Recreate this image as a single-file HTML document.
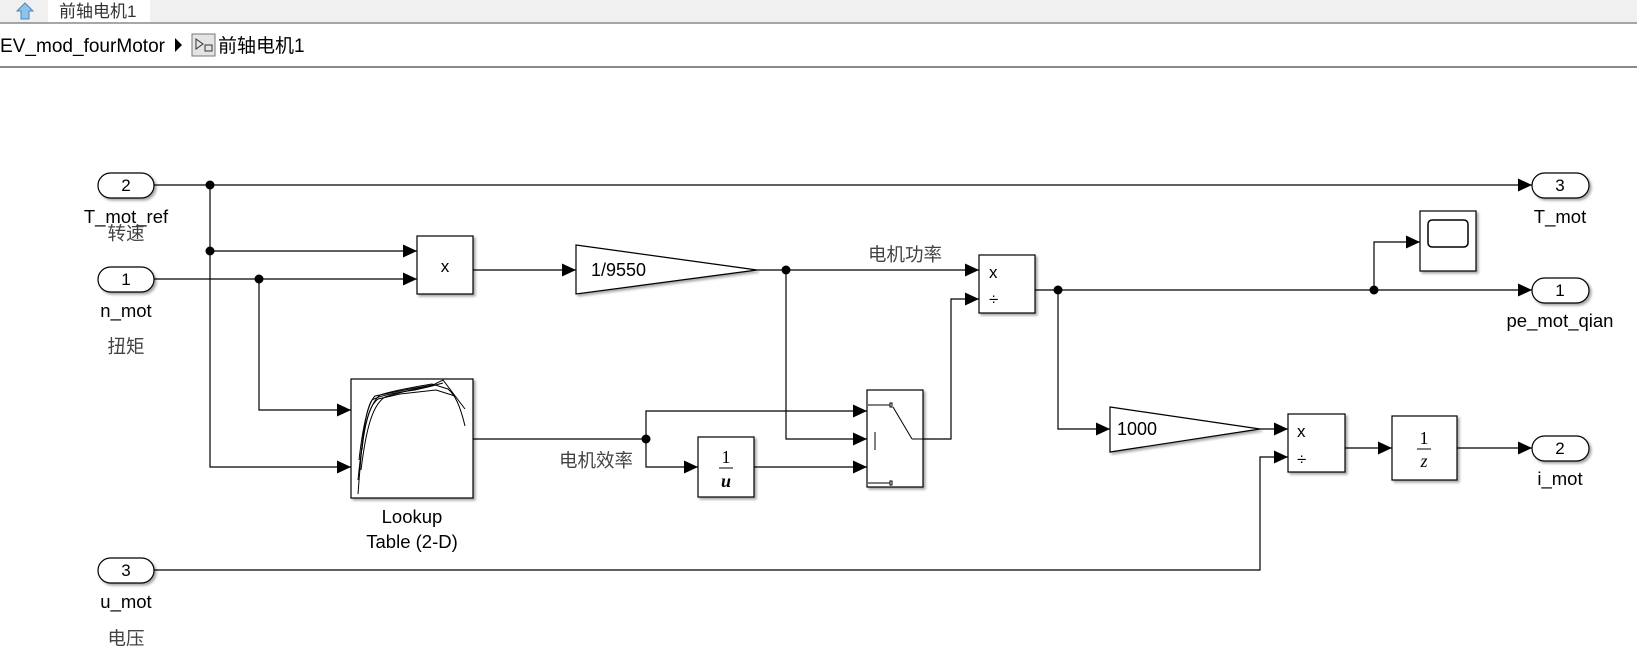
<!DOCTYPE html>
<html><head><meta charset="utf-8"><style>
body{margin:0;width:1637px;height:658px;background:#fff;overflow:hidden;font-family:"Liberation Sans","Noto Sans CJK SC",sans-serif}
</style></head><body>
<svg width="1637" height="658" xmlns="http://www.w3.org/2000/svg" font-family="Liberation Sans, Noto Sans CJK SC, sans-serif">
<defs>
<marker id="a" markerWidth="14" markerHeight="13" refX="14" refY="6.5" orient="auto" markerUnits="userSpaceOnUse"><path d="M0,0 L14,6.5 L0,13 Z" fill="#000"/></marker>
<filter id="s" x="-10%" y="-10%" width="130%" height="130%"><feDropShadow dx="2" dy="2" stdDeviation="1.2" flood-color="#000" flood-opacity="0.35"/></filter>
</defs>
<!-- header -->
<rect x="0" y="0" width="1637" height="23" fill="#f0f0f0"/>
<rect x="48" y="0" width="102" height="23" fill="#fff"/>
<line x1="0" y1="23" x2="1637" y2="23" stroke="#8a8a8a" stroke-width="1.5"/>
<path d="M25,3 L33,11 L29,11 L29,19 L21,19 L21,11 L17,11 Z" fill="#8fc3ea" stroke="#4a86c0"/>
<text x="59" y="17" font-size="17" fill="#333">前轴电机1</text>
<rect x="0" y="24" width="1637" height="40" fill="#fff"/>
<line x1="0" y1="67" x2="1637" y2="67" stroke="#8a8a8a" stroke-width="2"/>
<text x="0" y="52" font-size="19" fill="#000" textLength="165" lengthAdjust="spacingAndGlyphs">EV_mod_fourMotor</text>
<path d="M175,38 L182,45 L175,52 Z" fill="#000"/>
<rect x="192" y="34" width="23" height="22" fill="#e4e4e4" stroke="#777"/>
<path d="M196,39 L203,44 L196,49 Z" fill="none" stroke="#333"/><rect x="205" y="45" width="7" height="6" fill="none" stroke="#333"/>
<text x="218" y="52" font-size="19" fill="#000">前轴电机1</text>

<g stroke="#000" stroke-width="1.2" fill="none">
<line x1="154" y1="185" x2="1532" y2="185" marker-end="url(#a)"/>
<polyline points="210,185 210,467 351,467" marker-end="url(#a)"/>
<line x1="210" y1="251" x2="417" y2="251" marker-end="url(#a)"/>
<line x1="154" y1="279" x2="417" y2="279" marker-end="url(#a)"/>
<polyline points="259,279 259,410 351,410" marker-end="url(#a)"/>
<line x1="473" y1="270" x2="576" y2="270" marker-end="url(#a)"/>
<line x1="757" y1="270" x2="979" y2="270" marker-end="url(#a)"/>
<polyline points="786,270 786,439 867,439" marker-end="url(#a)"/>
<line x1="473" y1="439" x2="646" y2="439"/>
<polyline points="646,439 646,411 867,411" marker-end="url(#a)"/>
<polyline points="646,439 646,467 698,467" marker-end="url(#a)"/>
<line x1="754" y1="467" x2="867" y2="467" marker-end="url(#a)"/>
<polyline points="923,439 951,439 951,299 979,299" marker-end="url(#a)"/>
<line x1="1035" y1="290" x2="1532" y2="290" marker-end="url(#a)"/>
<polyline points="1374,290 1374,242 1420,242" marker-end="url(#a)"/>
<polyline points="1058,290 1058,429 1110,429" marker-end="url(#a)"/>
<line x1="1260" y1="429" x2="1288" y2="429" marker-end="url(#a)"/>
<polyline points="154,570 1260,570 1260,457 1288,457" marker-end="url(#a)"/>
<line x1="1345" y1="448" x2="1392" y2="448" marker-end="url(#a)"/>
<line x1="1457" y1="448" x2="1532" y2="448" marker-end="url(#a)"/>
</g>
<g fill="#000">
<circle cx="210" cy="185" r="4.5"/><circle cx="210" cy="251" r="4.5"/><circle cx="259" cy="279" r="4.5"/>
<circle cx="786" cy="270" r="4.5"/><circle cx="646" cy="439" r="4.5"/><circle cx="1058" cy="290" r="4.5"/><circle cx="1374" cy="290" r="4.5"/>
</g>
<g stroke="#000" stroke-width="1.2" fill="#fff" filter="url(#s)">
<rect x="98" y="173" width="56" height="25" rx="12.5"/>
<rect x="98" y="267" width="56" height="25" rx="12.5"/>
<rect x="98" y="558" width="56" height="25" rx="12.5"/>
<rect x="1532" y="173" width="57" height="25" rx="12.5"/>
<rect x="1532" y="278" width="57" height="25" rx="12.5"/>
<rect x="1532" y="436" width="57" height="25" rx="12.5"/>
<rect x="417" y="236" width="56" height="58"/>
<rect x="351" y="379" width="122" height="119"/>
<path d="M576,245 L757,270 L576,294 Z"/>
<rect x="979" y="255" width="56" height="58"/>
<rect x="867" y="390" width="56" height="97"/>
<rect x="698" y="437" width="56" height="60"/>
<path d="M1110,407 L1260,429 L1110,452 Z"/>
<rect x="1288" y="414" width="57" height="58"/>
<rect x="1392" y="416" width="65" height="64"/>
<rect x="1420" y="211" width="56" height="60"/>
</g>
<rect x="1428" y="220" width="40" height="27" rx="4" fill="none" stroke="#000" stroke-width="1.5"/>
<g stroke="#000" stroke-width="1" fill="none">
<path d="M358,494 C362,440 365,410 372,400 C380,395 400,392 415,390 L432,386 L443,383"/>
<path d="M358,480 C363,430 368,405 380,395 C395,390 420,386 432,384 L448,389 C455,395 460,405 465,426"/>
<path d="M361,470 C366,430 372,405 385,397 C400,392 420,388 433,385"/>
<path d="M359,460 C363,425 368,403 375,396 L410,389 L433,385 L443,380 L465,409"/>
<path d="M362,450 C365,420 370,405 378,399 L400,394 L436,390 L455,396"/>
</g>
<g stroke="#000" stroke-width="1" fill="none">
<line x1="868" y1="405" x2="890" y2="405"/><rect x="890" y="403" width="2" height="4"/>
<line x1="868" y1="483" x2="890" y2="483"/><rect x="890" y="481" width="2" height="4"/>
<line x1="875" y1="432" x2="875" y2="450"/>
<line x1="893" y1="407" x2="912" y2="439"/><line x1="912" y1="439" x2="923" y2="439"/>
</g>
<g font-size="17" fill="#000">
<text x="126" y="191" text-anchor="middle">2</text>
<text x="126" y="285" text-anchor="middle">1</text>
<text x="126" y="576" text-anchor="middle">3</text>
<text x="1560" y="191" text-anchor="middle">3</text>
<text x="1560" y="296" text-anchor="middle">1</text>
<text x="1560" y="454" text-anchor="middle">2</text>
<text x="445" y="272" text-anchor="middle">x</text>
<text x="591" y="276" font-size="18">1/9550</text>
<text x="1117" y="435" font-size="18">1000</text>
<text x="989" y="278">x</text><text x="989" y="305">÷</text>
<text x="1297" y="437">x</text><text x="1297" y="465">÷</text>
</g>
<g font-family="Liberation Serif, serif" fill="#000" text-anchor="middle">
<text x="726" y="463" font-size="18">1</text><line x1="719" y1="468" x2="733" y2="468" stroke="#000"/>
<text x="726" y="487" font-size="18" font-style="italic" font-weight="bold">u</text>
<text x="1424" y="444" font-size="18">1</text><line x1="1417" y1="449" x2="1431" y2="449" stroke="#000"/>
<text x="1424" y="467" font-size="18" font-style="italic">z</text>
</g>
<g font-size="18.5" fill="#000" text-anchor="middle">
<text x="126" y="223">T_mot_ref</text>
<text x="126" y="317">n_mot</text>
<text x="126" y="608">u_mot</text>
<text x="1560" y="223">T_mot</text>
<text x="1560" y="327">pe_mot_qian</text>
<text x="1560" y="485">i_mot</text>
<text x="412" y="523">Lookup</text>
<text x="412" y="548">Table (2-D)</text>
</g>
<g font-size="18.5" fill="#444" text-anchor="middle">
<text x="126" y="240">转速</text>
<text x="126" y="353">扭矩</text>
<text x="126" y="645">电压</text>
<text x="905" y="261">电机功率</text>
<text x="596" y="467">电机效率</text>
</g>
</svg>
</body></html>
